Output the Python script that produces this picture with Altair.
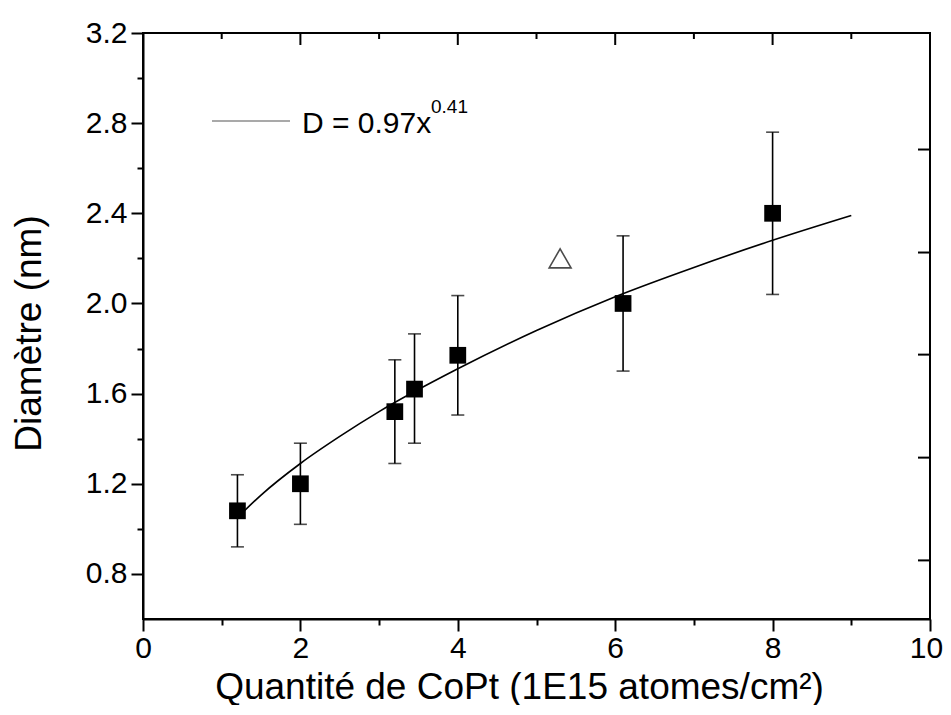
import altair as alt
import pandas as pd

# ---- data ----
quantite = [1.2, 2.0, 3.2, 3.45, 4.0, 6.1, 8.0]
diametre = [1.08, 1.20, 1.52, 1.62, 1.77, 2.00, 2.40]
err_bas = [0.92, 1.02, 1.29, 1.38, 1.505, 1.70, 2.04]
err_haut = [1.24, 1.38, 1.75, 1.865, 2.035, 2.30, 2.76]

tri_x = [5.3]
tri_y = [2.20]

fit_x = [1.2, 1.5, 2.0, 2.5, 3.0, 4.0, 5.0, 6.0, 7.0, 8.0, 9.0]
fit_y = [1.05, 1.15, 1.29, 1.41, 1.52, 1.71, 1.88, 2.03, 2.16, 2.28, 2.39]

x_ticks = [0, 1, 2, 3, 4, 5, 6, 7, 8, 9, 10]
y_ticks = [0.8, 1.0, 1.2, 1.4, 1.6, 1.8, 2.0, 2.2, 2.4, 2.6, 2.8, 3.0, 3.2]
x_major_top = [0, 2, 4, 6, 8, 10]
x_minor_top = [1, 3, 5, 7, 9]
y_right = [0.86, 1.316, 1.773, 2.226, 2.683]

pts = pd.DataFrame({"x": quantite, "y": diametre, "lo": err_bas, "hi": err_haut})
tri = pd.DataFrame({"x": tri_x, "y": tri_y})
fit = pd.DataFrame({"x": fit_x, "y": fit_y})

FONT = "Liberation Sans, Arial, sans-serif"
xs = alt.Scale(domain=[0, 10], nice=False, zero=False)
ys = alt.Scale(domain=[0.6, 3.2], nice=False, zero=False)

x_axis = alt.Axis(
    values=x_ticks,
    labelExpr="datum.value % 2 == 0 ? format(datum.value, 'd') : ''",
    tickSize={"condition": {"test": "datum.value % 2 == 0", "value": 12}, "value": 6},
    labelOffset={"condition": {"test": "datum.value == 10", "value": -4}, "value": 0},
    labelFlush=False, labelOverlap=False, labelPadding=2,
    title="Quantité de CoPt (1E15 atomes/cm²)", titlePadding=6, titleX=376, grid=False,
)
ytest = "abs(datum.value/0.4 - round(datum.value/0.4)) < 0.01"
y_axis = alt.Axis(
    values=y_ticks,
    labelExpr=f"{ytest} ? format(datum.value, '.1f') : ''",
    tickSize={"condition": {"test": ytest, "value": 12}, "value": 6},
    labelFlush=False, labelOverlap=False, labelPadding=4,
    title="Diamètre (nm)", titlePadding=37, titleY=300, grid=False,
)

fit_line = alt.Chart(fit).mark_line(color="black", strokeWidth=1.6, interpolate="monotone").encode(
    x=alt.X("x:Q", scale=xs, axis=x_axis),
    y=alt.Y("y:Q", scale=ys, axis=y_axis),
)

bars = alt.Chart(pts).mark_rule(color="black", strokeWidth=1.6).encode(
    x="x:Q", y="lo:Q", y2="hi:Q"
)
cap_lo = alt.Chart(pts).mark_tick(color="black", orient="horizontal", size=13, thickness=1.6).encode(
    x="x:Q", y="lo:Q"
)
cap_hi = alt.Chart(pts).mark_tick(color="black", orient="horizontal", size=13, thickness=1.6).encode(
    x="x:Q", y="hi:Q"
)
squares = alt.Chart(pts).mark_point(shape="square", filled=True, color="black", opacity=1, size=280).encode(
    x="x:Q", y="y:Q"
)
triangle = alt.Chart(tri).mark_point(shape="triangle-up", filled=False, color="black", strokeWidth=1.6, size=480).encode(
    x="x:Q", y="y:Q"
)

# inward ticks on top and right frame
top_major = alt.Chart(pd.DataFrame({"x": x_major_top})).mark_rule(color="black", strokeWidth=2).encode(
    x="x:Q", y=alt.value(0), y2=alt.value(12)
)
top_minor = alt.Chart(pd.DataFrame({"x": x_minor_top})).mark_rule(color="black", strokeWidth=2).encode(
    x="x:Q", y=alt.value(0), y2=alt.value(6)
)
right_ticks = alt.Chart(pd.DataFrame({"y": y_right})).mark_rule(color="black", strokeWidth=2).encode(
    y="y:Q", x=alt.value(787), x2=alt.value(775)
)

# legend annotation
leg_line = alt.Chart(pd.DataFrame({"a": [0]})).mark_rule(color="#555555", strokeWidth=1.2).encode(
    x=alt.value(69), x2=alt.value(147), y=alt.value(88)
)
leg_text = alt.Chart(pd.DataFrame({"t": ["D = 0.97x"]})).mark_text(
    font=FONT, fontSize=30, align="left", baseline="alphabetic", color="black"
).encode(text="t:N", x=alt.value(159), y=alt.value(100))
leg_sup = alt.Chart(pd.DataFrame({"t": ["0.41"]})).mark_text(
    font=FONT, fontSize=19, align="left", baseline="alphabetic", color="black"
).encode(text="t:N", x=alt.value(288), y=alt.value(80))

chart = alt.layer(
    fit_line, bars, cap_lo, cap_hi, squares, triangle,
    top_major, top_minor, right_ticks, leg_line, leg_text, leg_sup,
).properties(
    width=787, height=586,
    autosize=alt.AutoSizeParams(type="none"),
    padding={"left": 135, "top": 25, "right": 13, "bottom": 86},
).configure_view(
    stroke="black", strokeWidth=2
).configure_axis(
    labelFont=FONT, titleFont=FONT, labelFontSize=30, titleFontSize=37,
    labelColor="black", titleColor="black", titleFontWeight="normal",
    domainColor="black", domainWidth=2, tickColor="black", tickWidth=2,
)

chart.save("out.html", embed_options={"renderer": "svg", "actions": False})
